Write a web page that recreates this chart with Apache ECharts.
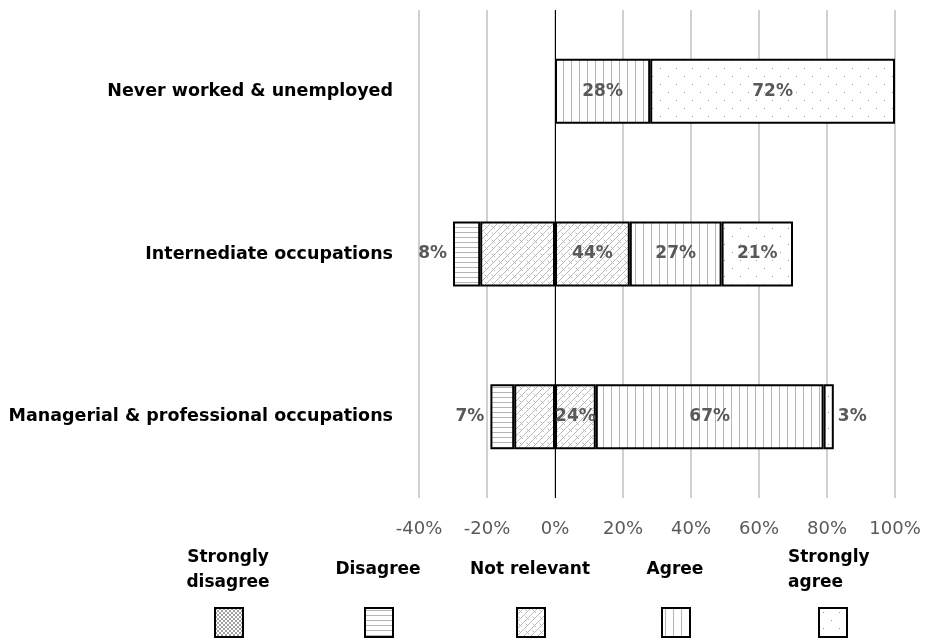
<!DOCTYPE html>
<html>
<head>
<meta charset="utf-8">
<script src="https://cdn.jsdelivr.net/npm/echarts@6/dist/echarts.min.js"></script>
<style>
html, body { margin: 0; padding: 0; background: #fff; }
#main { width: 927px; height: 642px; }
</style>
</head>
<body>
<div id="main"></div>
<script>
// categories, top to bottom
var categories = ['Never worked & unemployed', 'Internediate occupations', 'Managerial & professional occupations'];
var stronglyDisagree = [0, 0, 0];
var disagree = [0, 8, 7];
var notRelevant = [0, 44, 24];   // split half left / half right of 0
var agree = [28, 27, 67];
var stronglyAgree = [72, 21, 3];
var legendNames = ['Strongly disagree', 'Disagree', 'Not relevant', 'Agree', 'Strongly agree'];
var legendLines = [['Strongly', 'disagree'], ['Disagree'], ['Not relevant'], ['Agree'], ['Strongly', 'agree']];

var font = 'DejaVu Sans';

function pattern(w, h, draw) {
    var c = document.createElement('canvas');
    c.width = w;
    c.height = h;
    var g = c.getContext('2d');
    g.fillStyle = '#fff';
    g.fillRect(0, 0, w, h);
    draw(g);
    return { image: c, repeat: 'repeat' };
}

var fills = {
    'Strongly disagree': pattern(4, 4, function (g) {
        g.fillStyle = '#a0a0a0';
        g.fillRect(0, 0, 2, 2);
        g.fillRect(2, 2, 2, 2);
    }),
    'Disagree': pattern(4, 5, function (g) {
        g.fillStyle = '#b4b4b4';
        g.fillRect(0, 2, 4, 1);
    }),
    'Not relevant': pattern(14, 14, function (g) {
        g.strokeStyle = '#b8b8b8';
        g.lineWidth = 1;
        g.beginPath();
        // diagonal "/" rows
        g.moveTo(0, 14); g.lineTo(14, 0);
        g.moveTo(0, 7); g.lineTo(7, 0);
        g.moveTo(7, 14); g.lineTo(14, 7);
        // short "\" joints between rows
        g.moveTo(1.5, 1.5); g.lineTo(5, 5);
        g.moveTo(8.5, 8.5); g.lineTo(12, 12);
        g.moveTo(8.5, 1.5); g.lineTo(10.5, 3.5);
        g.moveTo(1.5, 8.5); g.lineTo(3.5, 10.5);
        g.stroke();
    }),
    'Agree': pattern(8, 4, function (g) {
        g.fillStyle = '#b4b4b4';
        g.fillRect(3, 0, 1, 4);
    }),
    'Strongly agree': pattern(16, 16, function (g) {
        g.fillStyle = '#9a9a9a';
        g.fillRect(4, 4, 1, 1);
        g.fillRect(12, 12, 1, 1);
    })
};

var labelStyle = {
    color: '#595959',
    fontFamily: font,
    fontWeight: 'bold',
    fontSize: 17
};

function barSeries(name, values, sign, labelFn) {
    return {
        name: name,
        type: 'bar',
        stack: 'all',
        barWidth: '40%',
        itemStyle: { color: fills[name], borderColor: '#000', borderWidth: 2 },
        label: Object.assign({ show: !!labelFn, position: 'inside' }, labelStyle, {
            formatter: labelFn || ''
        }),
        data: values.map(function (v) {
            if (!v) return '-';
            var item = { value: sign * v };
            if (v < 5) item.label = { position: sign < 0 ? 'left' : 'right', distance: 4 };
            return item;
        })
    };
}

function pct(arr) {
    return function (p) { return arr[p.dataIndex] + '%'; };
}

var nrLeft = barSeries('Not relevant', notRelevant.map(function (v) { return v / 2; }), -1, null);
var nrRight = barSeries('Not relevant', notRelevant.map(function (v) { return v / 2; }), 1, pct(notRelevant));
nrRight.markLine = {
    silent: true,
    symbol: 'none',
    label: { show: false },
    lineStyle: { color: '#000', width: 1, type: 'solid' },
    data: [{ xAxis: 0 }]
};
var dis = barSeries('Disagree', disagree, -1, pct(disagree));
dis.label.position = 'left';
dis.label.distance = 6;

var series = [
    nrLeft,
    nrRight,
    dis,
    barSeries('Agree', agree, 1, pct(agree)),
    barSeries('Strongly disagree', stronglyDisagree, -1, pct(stronglyDisagree)),
    barSeries('Strongly agree', stronglyAgree, 1, pct(stronglyAgree))
];

var legendX = [228, 378, 530, 675, 832];
var legends = legendNames.map(function (n, i) {
    return {
        data: [{ name: n, icon: 'rect' }],
        left: legendX[i] - 14,
        top: 607,
        padding: 0,
        itemWidth: 28,
        itemHeight: 29,
        selectedMode: false,
        formatter: function () { return ''; },
        itemStyle: { borderColor: '#000', borderWidth: 2 }
    };
});

var legendText = legendLines.map(function (lines, i) {
    var left = legendNames[i] === 'Strongly agree';
    return {
        type: 'text',
        x: left ? 788 : legendX[i],
        y: 570,
        style: {
            text: lines.join('\n'),
            align: left ? 'left' : 'center',
            verticalAlign: 'middle',
            lineHeight: 25,
            fontFamily: font,
            fontWeight: 'bold',
            fontSize: 17,
            fill: '#000'
        }
    };
});

var chart = echarts.init(document.getElementById('main'));
chart.setOption({
    animation: false,
    grid: { left: 419, right: 32, top: 10, bottom: 144, outerBoundsMode: 'none' },
    xAxis: {
        type: 'value',
        min: -40,
        max: 100,
        interval: 20,
        axisLine: { show: false },
        axisTick: { show: false },
        splitLine: { lineStyle: { color: '#d0d0d0', width: 2 } },
        axisLabel: {
            formatter: '{value}%',
            color: '#595959',
            fontFamily: font,
            fontSize: 18,
            margin: 22
        }
    },
    yAxis: {
        type: 'category',
        inverse: true,
        data: categories,
        axisLine: { show: false },
        axisTick: { show: false },
        axisLabel: {
            color: '#000',
            fontFamily: font,
            fontWeight: 'bold',
            fontSize: 17.5,
            margin: 26
        }
    },
    legend: legends,
    graphic: legendText,
    series: series
});
</script>
</body>
</html>
